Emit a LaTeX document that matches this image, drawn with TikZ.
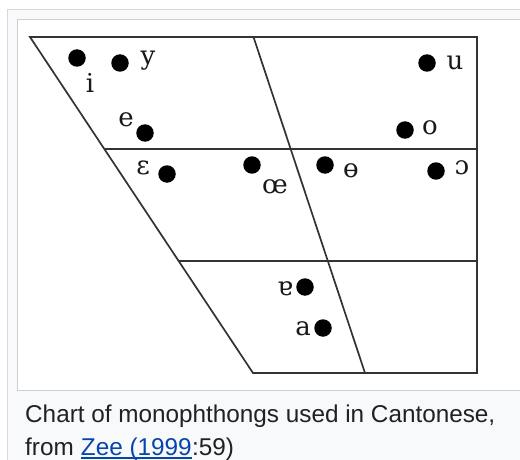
\documentclass[tikz,border=0pt]{standalone}
\usepackage{fontspec}
\setmainfont{Liberation Sans}
\newfontfamily\ipafont{DejaVu Serif}
\usetikzlibrary{calc}

\definecolor{framebg}{HTML}{F8F9FA}
\definecolor{frameline}{HTML}{D6D8DA}
\definecolor{boxline}{HTML}{CDD0D3}
\definecolor{captext}{HTML}{202122}
\definecolor{linkblue}{HTML}{0645AD}

\tikzset{
  chartline/.style={draw=black!80, line width=1.7pt},
  vdot/.style={circle, fill=black, inner sep=0pt, minimum size=17.5pt},
  ipa/.style={font=\ipafont\fontsize{26}{28}\selectfont, inner sep=0pt, anchor=base, text=black!90},
  captiontext/.style={font=\fontsize{24.3}{28}\selectfont, inner sep=0pt, anchor=base west, text=captext},
}

\begin{document}
\begin{tikzpicture}[x=1pt, y=-1pt]
\useasboundingbox (0,0) rectangle (520,460);
\clip (0,0) rectangle (520,460);

% thumbnail frame and image box
\fill[white] (0,0) rectangle (520,460);
\draw[frameline, fill=framebg, line width=1pt] (7.5,9.5) rectangle (540,480);
\draw[boxline, fill=white, line width=1pt] (17.5,19.5) rectangle (540,390.5);

% vowel trapezoid
\coordinate (tl) at (30,37);
\coordinate (tr) at (477,37);
\coordinate (br) at (477,373);
\coordinate (bl) at (253,373);
\draw[chartline, line join=miter] (tl) -- (tr) -- (br) -- (bl) -- cycle;
\draw[chartline] ($(tl)!0.5!(tr)$) -- ($(bl)!0.5!(br)$);
\draw[chartline] ($(tl)!1/3!(bl)$) -- ($(tr)!1/3!(br)$);
\draw[chartline] ($(tl)!2/3!(bl)$) -- ($(tr)!2/3!(br)$);

% vowel dots
\node[vdot] (di) at (77,58) {};
\node[vdot] (dy) at (120,63) {};
\node[vdot] (du) at (427,63) {};
\node[vdot] (de) at (145,133) {};
\node[vdot] (do) at (405,130) {};
\node[vdot] (deps) at (167,174) {};
\node[vdot] (doe) at (252,165) {};
\node[vdot] (dbo) at (325,165) {};
\node[vdot] (doo) at (436,171) {};
\node[vdot] (dtur) at (305,287) {};
\node[vdot] (da) at (323,328) {};

% vowel symbols
\node[ipa] (li) at (90,92.5) {i};
\node[ipa] (ly) at (148,65) {y};
\node[ipa] (lu) at (455,70) {u};
\node[ipa] (le) at (126,126) {e};
\node[ipa] (lo) at (430,135) {o};
\node[ipa] (leps) at (143,175) {ɛ};
\node[ipa] (loe) at (275,193) {œ};
\node[ipa] (lbo) at (351,177) {ɵ};
\node[ipa] (loo) at (462,175) {ɔ};
\node[ipa] (ltur) at (285,295) {ɐ};
\node[ipa] (la) at (303,335) {a};

% caption
\node[captiontext] (c1) at (25,422) {Chart of monophthongs used in Cantonese,};
\node[captiontext] (c2) at (25,455) {from};
\node[captiontext, text=linkblue] (c3) at ($(c2.base east)+(6.75,0)$) {Zee (1999};
\node[captiontext] (c4) at (c3.base east) {:59)};
\draw[linkblue, line width=1.2pt] ($(c3.base west)+(0,3)$) -- ($(c3.base east)+(0,3)$);
\end{tikzpicture}
\end{document}
